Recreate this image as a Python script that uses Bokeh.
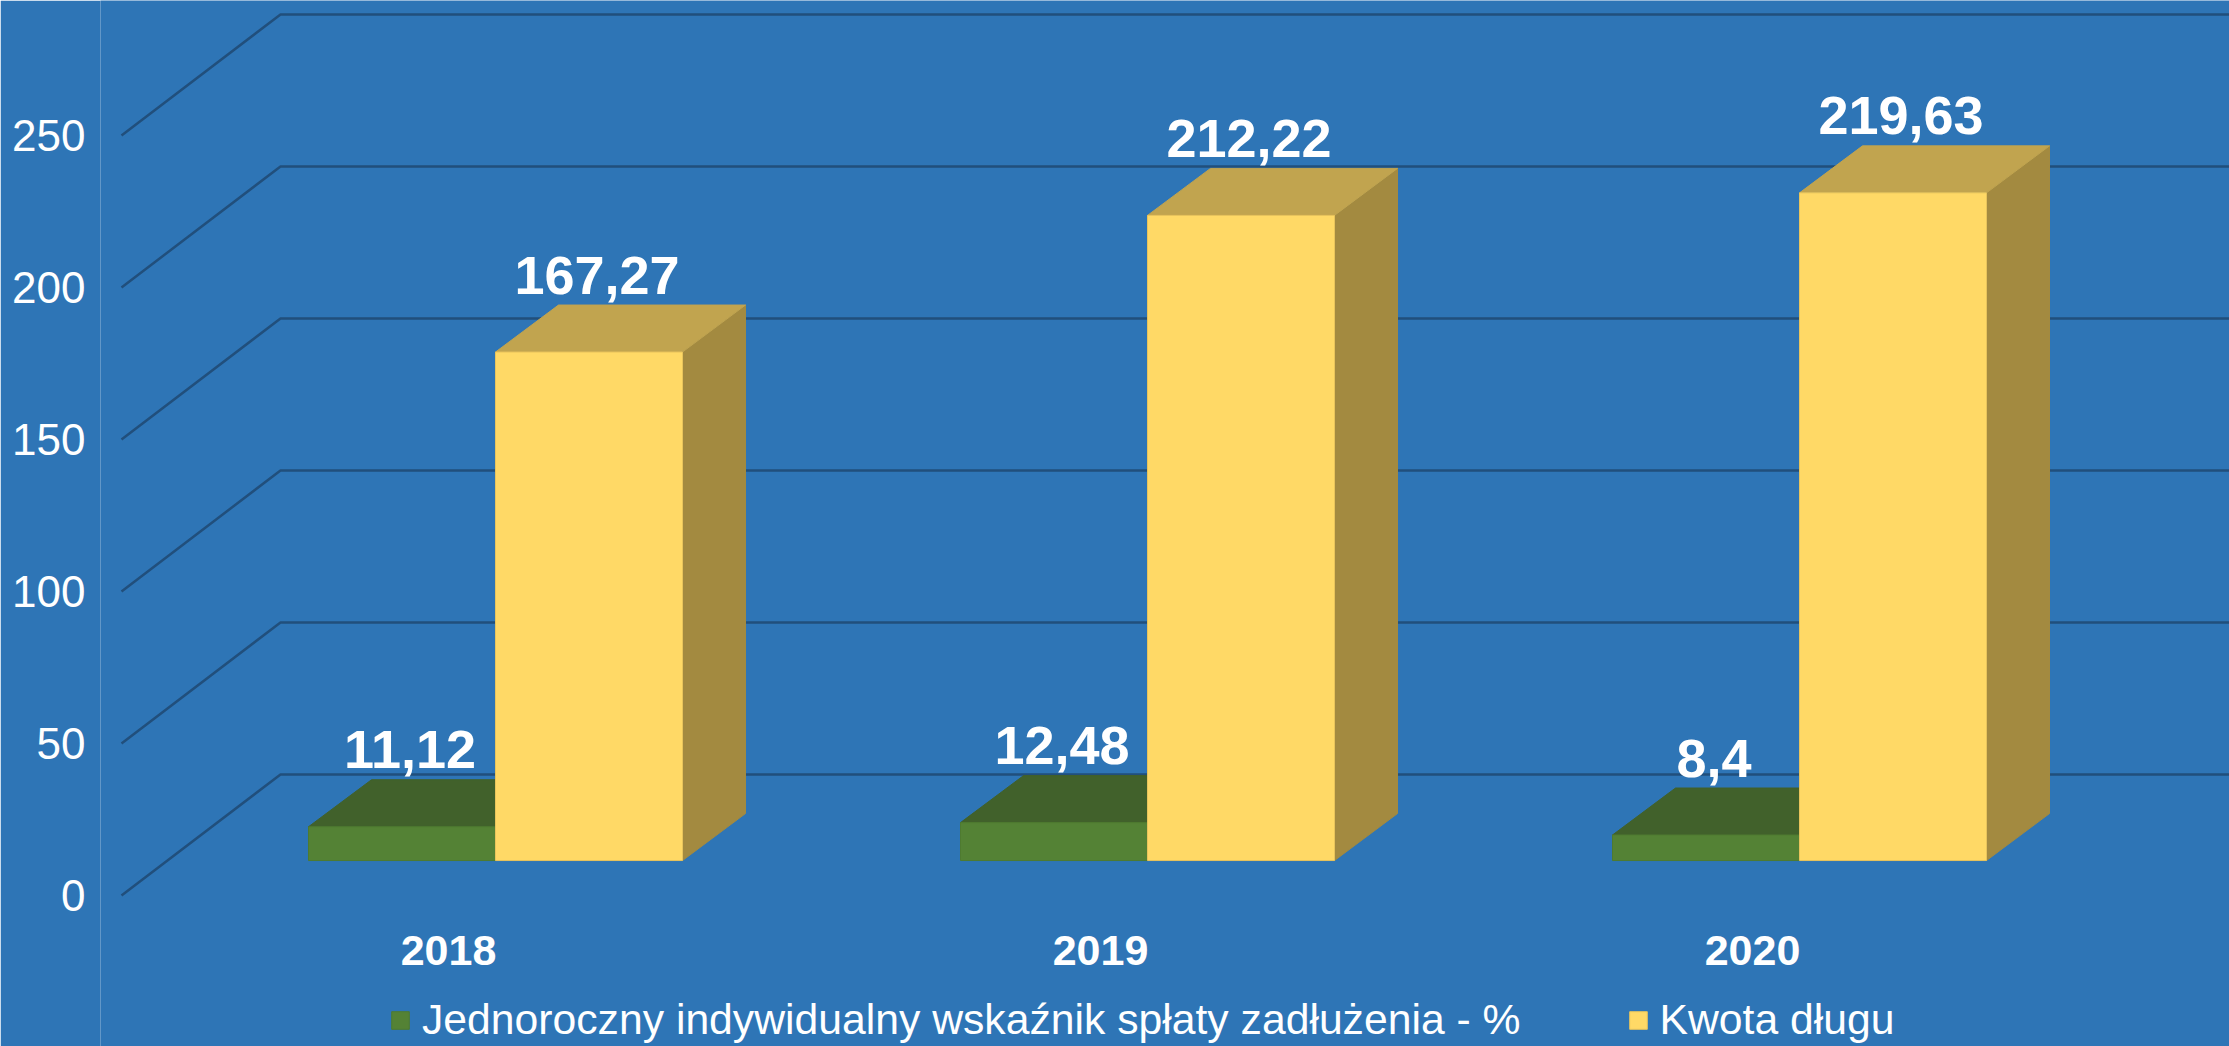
from bokeh.plotting import figure
from bokeh.models import Range1d, FixedTicker, Legend, LegendItem, ColumnDataSource
from bokeh.embed import file_html
from bokeh.resources import INLINE
from bokeh.core.properties import value

# ---- data ----
years = ["2018", "2019", "2020"]
ratio = [11.12, 12.48, 8.4]          # Jednoroczny indywidualny wskaźnik spłaty zadłużenia - %
debt = [167.27, 212.22, 219.63]      # Kwota długu
series_names = ["Jednoroczny indywidualny wskaźnik spłaty zadłużenia - %", "Kwota długu"]
y_ticks = [0, 50, 100, 150, 200, 250]

# ---- style / layout constants ----
BG = "#2E75B6"
GRID = "#214F7C"
FONT = "Liberation Sans"
COLORS = {
    "front": ["#548235", "#FFD966"],
    "top": ["#41612B", "#C1A44F"],
    "side": ["#3A5A24", "#A38A40"],
    "edge": ["#4E7A30", "#E8C45C"],
}
W, H = 2229, 1046
PX_X = 652.0          # px per category unit
PX_Y = 3.04           # px per value unit
BAR_W = 187 / PX_X
DX = 63 / PX_X        # bar depth (x)
DY = 47 / PX_Y        # bar depth (y)
BASE = 11.5           # bar floor on the front value scale
WALL_DY = 121 / PX_Y  # back wall offset (y)
AX_X0 = (121 - 495) / PX_X
WALL_X0 = (280 - 495) / PX_X

p = figure(width=W, height=H, output_backend="svg", toolbar_location=None,
           x_range=Range1d((100 - 495) / PX_X, (W - 495) / PX_X),
           y_range=Range1d((895 - H) / PX_Y, 895 / PX_Y),
           x_axis_location=None,
           min_border_left=100, min_border_right=0, min_border_top=0, min_border_bottom=0,
           background_fill_color=BG, background_fill_alpha=1,
           border_fill_color=BG, border_fill_alpha=1,
           outline_line_color=None)
p.xgrid.visible = False
p.ygrid.visible = False

ax = p.yaxis[0]
ax.ticker = FixedTicker(ticks=y_ticks)
ax.axis_line_color = None
ax.major_tick_line_color = None
ax.minor_tick_line_color = None
ax.major_tick_out = 0
ax.major_tick_in = 0
ax.major_label_standoff = 15
ax.major_label_text_color = "white"
ax.major_label_text_font = FONT
ax.major_label_text_font_size = "44px"

# back wall gridlines + diagonal lines
gx, gy = [], []
for t in y_ticks:
    gx.append([AX_X0, WALL_X0, 3.0])
    gy.append([t, t + WALL_DY, t + WALL_DY])
p.multi_line(gx, gy, line_color=GRID, line_width=2.5)

# bars (3D boxes)
renderers = []
for s, vals in enumerate([ratio, debt]):
    lefts = [i - BAR_W + s * BAR_W for i in range(len(years))]
    rights = [l + BAR_W for l in lefts]
    tops = [BASE + v for v in vals]
    side_x, side_y, top_x, top_y = [], [], [], []
    for l, r, t in zip(lefts, rights, tops):
        side_x.append([r, r, r + DX, r + DX])
        side_y.append([BASE, t, t + DY, BASE + DY])
        top_x.append([l, r, r + DX, l + DX])
        top_y.append([t, t, t + DY, t + DY])
    p.patches(side_x, side_y, fill_color=COLORS["side"][s], line_color=COLORS["side"][s], line_width=1)
    p.patches(top_x, top_y, fill_color=COLORS["top"][s], line_color=COLORS["top"][s], line_width=1)
    src = ColumnDataSource(dict(left=lefts, right=rights, bottom=[BASE] * len(vals), top=tops))
    r = p.quad(left="left", right="right", bottom="bottom", top="top", source=src,
               fill_color=COLORS["front"][s], line_color=COLORS["edge"][s], line_width=1)
    renderers.append(r)
    # data labels
    lab = ColumnDataSource(dict(
        x=[(l + rr) / 2 + 8 / PX_X for l, rr in zip(lefts, rights)],
        y=[t + DY + 30 / PX_Y for t in tops],
        text=[str(v).replace(".", ",") for v in vals]))
    p.text(x="x", y="y", text="text", source=lab, text_align="center", text_baseline="middle",
           text_color="white", text_font=value(FONT), text_font_style="bold", text_font_size="54px")

# category labels
cat = ColumnDataSource(dict(x=[i - 47 / PX_X for i in range(len(years))],
                            y=[(895 - 950) / PX_Y] * len(years), text=years))
p.text(x="x", y="y", text="text", source=cat, text_align="center", text_baseline="middle",
       text_color="white", text_font=value(FONT), text_font_style="bold", text_font_size="43px")

legend = Legend(items=[LegendItem(label=series_names[0], renderers=[renderers[0]]),
                       LegendItem(label=series_names[1], renderers=[renderers[1]])],
                orientation="horizontal", location=(289, 2),
                background_fill_alpha=0, border_line_color=None,
                label_text_color="white", label_text_font=FONT, label_text_font_size="42.7px",
                glyph_width=22, glyph_height=22, label_standoff=11, spacing=106,
                padding=0, margin=0)
p.add_layout(legend)

open("out.html", "w").write(file_html(p, INLINE))
